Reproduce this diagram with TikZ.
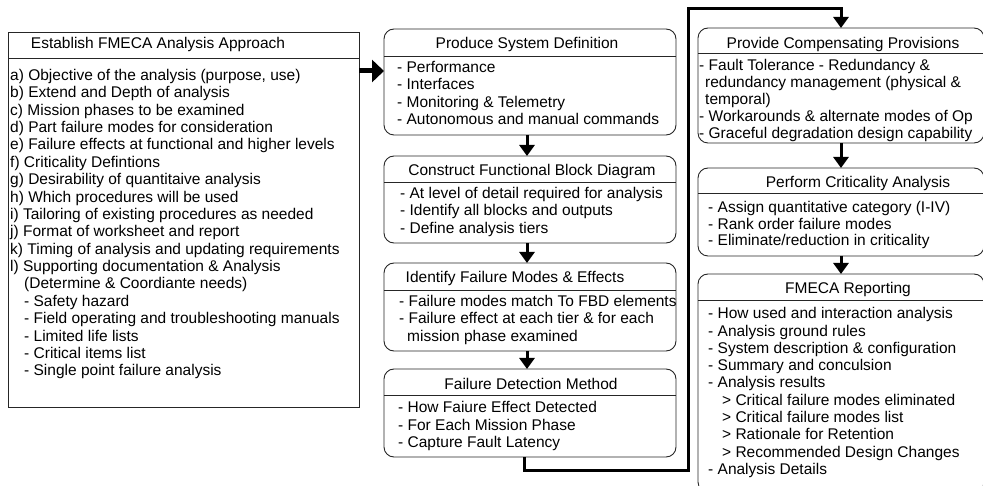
\documentclass[tikz,border=0pt]{standalone}
\usepackage{fontspec}
\setmainfont{Liberation Sans}
\usetikzlibrary{arrows.meta}
\begin{document}
\begin{tikzpicture}[x=1pt,y=-1pt,
 sqbox/.style={draw=black!85, line width=0.9pt, inner sep=0pt, outer sep=0pt, anchor=north west},
 rbox/.style={sqbox, rounded corners=10pt},
 ttl/.style={inner sep=0pt, anchor=base, font=\fontsize{15.5}{17.4}\selectfont},
 body/.style={inner sep=0pt, anchor=north west, align=left},
 conn/.style={line width=3pt, -{Triangle[length=11pt,width=15pt]}},
 bigarrow/.style={line width=5pt, -{Triangle[length=12pt,width=22pt]}},
 divider/.style={draw=black!85, line width=0.9pt}
]
\useasboundingbox (0,0) rectangle (983,486);
\clip (0,0) rectangle (983,486);

% boxes
\node[sqbox, minimum width=351pt, minimum height=375pt] (L) at (8,32) {};
\node[rbox, minimum width=292pt, minimum height=106pt] (B1) at (384,29) {};
\node[rbox, minimum width=292pt, minimum height=87pt] (B2) at (384,156) {};
\node[rbox, minimum width=292pt, minimum height=88pt] (B3) at (384,263) {};
\node[rbox, minimum width=292pt, minimum height=88pt] (B4) at (384,369) {};
\node[rbox, minimum width=286pt, minimum height=115pt] (B5) at (698,28) {};
\node[rbox, minimum width=286pt, minimum height=88pt] (B6) at (698,168) {};
\node[rbox, minimum width=286pt, minimum height=218pt] (B7) at (698,274) {};

% dividers
\draw[divider] ([yshift=-26pt]L.north west) -- ([yshift=-26pt]L.north east);
\draw[divider] ([yshift=-27pt]B1.north west) -- ([yshift=-27pt]B1.north east);
\draw[divider] ([yshift=-26pt]B2.north west) -- ([yshift=-26pt]B2.north east);
\draw[divider] ([yshift=-27pt]B3.north west) -- ([yshift=-27pt]B3.north east);
\draw[divider] ([yshift=-26pt]B4.north west) -- ([yshift=-26pt]B4.north east);
\draw[divider] ([yshift=-25pt]B5.north west) -- ([yshift=-25pt]B5.north east);
\draw[divider] ([yshift=-25pt]B6.north west) -- ([yshift=-25pt]B6.north east);
\draw[divider] ([yshift=-26pt]B7.north west) -- ([yshift=-26pt]B7.north east);

% titles
\node[ttl] (Lt) at (158,48.5) {Establish FMECA Analysis Approach};
\node[ttl] (B1t) at (527,48.5) {Produce System Definition};
\node[ttl] (B2t) at (532,175.5) {Construct Functional Block Diagram};
\node[ttl] (B3t) at (515,282.5) {Identify Failure Modes \& Effects};
\node[ttl] (B4t) at (531,389.5) {Failure Detection Method};
\node[ttl] (B5t) at (843,48.5) {Provide Compensating Provisions};
\node[ttl] (B6t) at (858,187.5) {Perform Criticality Analysis};
\node[ttl] (B7t) at (848,293.5) {FMECA Reporting};

% bodies
\node[body, font=\fontsize{15.5}{17.4}\selectfont] (Lb) at (10,68) {\rule{0pt}{12pt}a) Objective of the analysis (purpose, use)\\
b) Extend and Depth of analysis\\
c) Mission phases to be examined\\
d) Part failure modes for consideration\\
e) Failure effects at functional and higher levels\\
f) Criticality Defintions\\
g) Desirability of quantitaive analysis\\
h) Which procedures will be used\\
i) Tailoring of existing procedures as needed\\
j) Format of worksheet and report\\
k) Timing of analysis and updating requirements\\
l) Supporting documentation \& Analysis\\
\hspace*{14pt}(Determine \& Coordiante needs)\\
\hspace*{14pt}- Safety hazard\\
\hspace*{14pt}- Field operating and troubleshooting manuals\\
\hspace*{14pt}- Limited life lists\\
\hspace*{14pt}- Critical items list\\
\hspace*{14pt}- Single point failure analysis};

\node[body, font=\fontsize{15.5}{17.3}\selectfont] (B1b) at (397,60.5) {\rule{0pt}{12pt}- Performance\\
- Interfaces\\
- Monitoring \& Telemetry\\
- Autonomous and manual commands};

\node[body, font=\fontsize{15.5}{17.3}\selectfont] (B2b) at (400,186.5) {\rule{0pt}{12pt}- At level of detail required for analysis\\
- Identify all blocks and outputs\\
- Define analysis tiers};

\node[body, font=\fontsize{15.5}{17.3}\selectfont] (B3b) at (399,294.5) {\rule{0pt}{12pt}- Failure modes match To FBD elements\\
- Failure effect at each tier \& for each\\
\hspace*{8pt}mission phase examined};

\node[body, font=\fontsize{15.5}{17.3}\selectfont] (B4b) at (398,400.5) {\rule{0pt}{12pt}- How Faiure Effect Detected\\
- For Each Mission Phase\\
- Capture Fault Latency};

\node[body, font=\fontsize{15.5}{17}\selectfont] (B5b) at (699,58.5) {\rule{0pt}{12pt}- Fault Tolerance - Redundancy \&\\
\hspace*{6pt}redundancy management (physical \&\\
\hspace*{6pt}temporal)\\
- Workarounds \& alternate modes of Op\\
- Graceful degradation design capability};

\node[body, font=\fontsize{15.5}{16.6}\selectfont] (B6b) at (708,200.5) {\rule{0pt}{12pt}- Assign quantitative category (I-IV)\\
- Rank order failure modes\\
- Eliminate/reduction in criticality};

\node[body, font=\fontsize{15.5}{17.3}\selectfont] (B7b) at (708,306.5) {\rule{0pt}{12pt}- How used and interaction analysis\\
- Analysis ground rules\\
- System description \& configuration\\
- Summary and conculsion\\
- Analysis results\\
\hspace*{14pt}> Critical failure modes eliminated\\
\hspace*{14pt}> Critical failure modes list\\
\hspace*{14pt}> Rationale for Retention\\
\hspace*{14pt}> Recommended Design Changes\\
- Analysis Details};

% connectors
\draw[bigarrow] ([yshift=-39pt]L.north east) -- ([yshift=-42pt]B1.north west);
\draw[conn] ([xshift=-3pt]B1.south) -- ([xshift=-3pt]B2.north);
\draw[conn] ([xshift=-3pt]B2.south) -- ([xshift=-3pt]B3.north);
\draw[conn] ([xshift=-3pt]B3.south) -- ([xshift=-3pt]B4.north);
\coordinate (k1) at (688,470);
\coordinate (k2) at (688,9);
\draw[conn] ([xshift=-6pt]B4.south) |- (k1) -- (k2) -| (B5.north);
\draw[conn] (B5.south) -- (B6.north);
\draw[conn] (B6.south) -- (B7.north);
\end{tikzpicture}
\end{document}
